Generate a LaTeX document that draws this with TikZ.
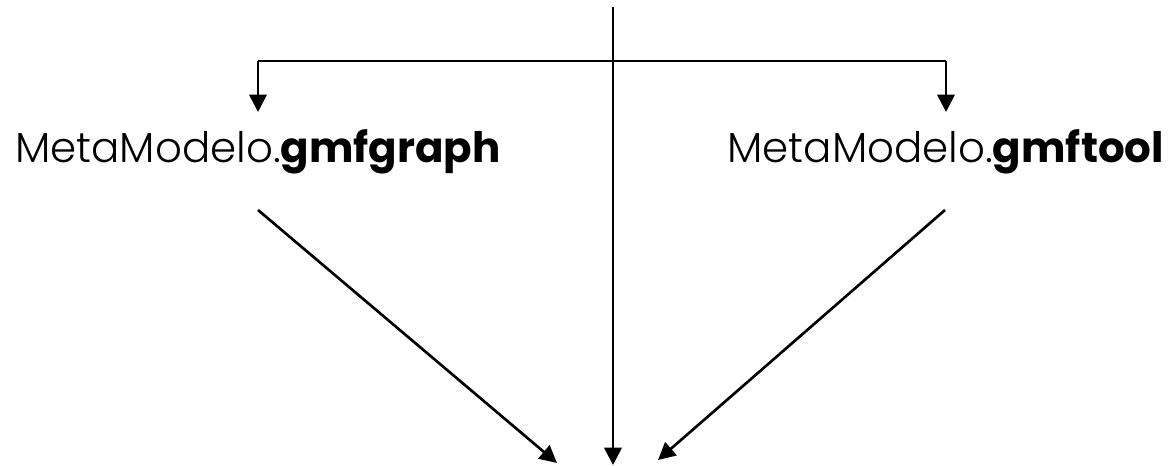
\documentclass[tikz,border=0pt]{standalone}
\usepackage{fontspec}
\setmainfont{Poppins}[UprightFont={* Light},BoldFont={* Bold}]
\usetikzlibrary{arrows.meta}
\begin{document}
\begin{tikzpicture}[x=0.02646cm,y=-0.02646cm,
  conn/.style={line width=2pt,black},
  arr/.style={conn,-{Triangle[length=13pt,width=13pt]}},
  lbl/.style={inner sep=0pt,anchor=base west,font=\fontsize{31.6pt}{36pt}\selectfont}]
\useasboundingbox[fill=white] (0,0) rectangle (1171,466);
% labels
\node[lbl] (gg) at (15,163) {MetaModelo.\textbf{gmfgraph}};
\node[lbl] (gt) at (727,163) {MetaModelo.\textbf{gmftool}};
% coordinates
\coordinate (top) at (613,7);
\coordinate (bot) at (613,465);
\coordinate (hl) at (258,61);
\coordinate (hr) at (946,61);
\coordinate (tl) at (258,112);
\coordinate (tr) at (946,112);
\coordinate (sl) at (258,210);
\coordinate (sr) at (945,210);
\coordinate (el) at (557,463);
\coordinate (er) at (658,460);
% connectors
\draw[arr] (top) -- (bot);
\draw[conn] (hl) -- (hr);
\draw[arr] (hl) -- (tl);
\draw[arr] (hr) -- (tr);
\draw[arr] (sl) -- (el);
\draw[arr] (sr) -- (er);
\end{tikzpicture}
\end{document}
